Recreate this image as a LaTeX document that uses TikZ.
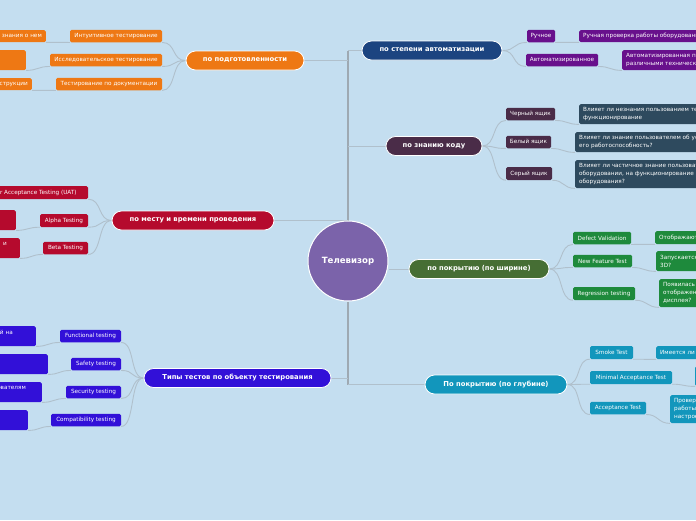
\documentclass[tikz,border=0pt]{standalone}
\usepackage{fontspec}
\setmainfont{DejaVu Sans}
\usetikzlibrary{backgrounds}
\definecolor{bgc}{RGB}{196,222,240}
\definecolor{linec}{RGB}{176,192,204}
\definecolor{trunkc}{RGB}{158,169,178}
\definecolor{tvc}{RGB}{123,99,170}
\definecolor{orc}{RGB}{238,120,20}
\definecolor{blc}{RGB}{28,68,128}
\definecolor{puc}{RGB}{104,16,140}
\definecolor{plc}{RGB}{74,44,72}
\definecolor{slc}{RGB}{46,74,94}
\definecolor{crc}{RGB}{181,10,45}
\definecolor{gmc}{RGB}{70,110,52}
\definecolor{gsc}{RGB}{30,138,60}
\definecolor{vic}{RGB}{50,16,216}
\definecolor{tec}{RGB}{18,150,188}
\tikzset{
  mainbox/.style={rounded corners=9.5pt, draw=white, line width=0.8pt, text=white,
    font=\fontsize{6.8}{8}\selectfont\bfseries, inner sep=0pt, minimum height=19pt},
  subbox/.style={rounded corners=1.5pt, text=white, font=\fontsize{5.7}{7}\selectfont,
    inner sep=0pt, minimum height=12.5pt},
  leafR/.style={rounded corners=1.5pt, text=white, font=\fontsize{5.7}{8}\selectfont,
    inner xsep=4pt, inner ysep=0pt, anchor=north west, text width=200pt, align=left},
  leafL/.style={rounded corners=1.5pt, text=white, font=\fontsize{5.7}{8}\selectfont,
    inner xsep=4pt, inner ysep=0pt, anchor=north east, text width=200pt, align=right},
  conn/.style={draw=linec, line width=0.9pt},
  trunk/.style={draw=trunkc, line width=1.6pt}
}
\begin{document}
\begin{tikzpicture}[x=1pt,y=-1pt]
\useasboundingbox (0,0) rectangle (696,520);
\clip (0,0) rectangle (696,520);

% centre
\node[circle, fill=tvc, draw=white, line width=1pt, minimum size=80pt, inner sep=0pt,
  text=white, font=\fontsize{8.6}{10}\selectfont\bfseries] (tv) at (348,261) {Телевизор};

% main branches
\node[mainbox, fill=orc, minimum width=118pt] (prep) at (245,60.5) {по подготовленности};
\node[mainbox, fill=blc, minimum width=140pt] (auto) at (432,50.5) {по степени автоматизации};
\node[mainbox, fill=plc, minimum width=96pt] (code) at (434,146) {по знанию коду};
\node[mainbox, fill=crc, minimum width=162pt] (place) at (193,220.5) {по месту и времени проведения};
\node[mainbox, fill=gmc, minimum width=140pt] (wide) at (479,269) {по покрытию (по ширине)};
\node[mainbox, fill=vic, minimum width=187pt] (obj) at (237.5,378) {Типы тестов по объекту тестирования};
\node[mainbox, fill=tec, minimum width=142pt] (deep) at (496,384.5) {По покрытию (по глубине)};

% orange subs
\node[subbox, fill=orc, minimum width=92pt] (o1) at (116,36) {Интуитивное тестирование};
\node[subbox, fill=orc, minimum width=112pt] (o2) at (106,60) {Исследовательское тестирование};
\node[subbox, fill=orc, minimum width=106pt] (o3) at (109,84) {Тестирование по документации};
\node[leafL, fill=orc, minimum height=12pt] (o1l) at (46,30) {знания о нем};
\node[leafL, fill=orc, minimum height=20pt] (o2l) at (26,50) {};
\node[leafL, fill=orc, minimum height=12pt] (o3l) at (32,78) {инструкции};

% purple subs
\node[subbox, fill=puc, minimum width=28pt] (p1) at (541,36) {Ручное};
\node[subbox, fill=puc, minimum width=72pt] (p2) at (562,60) {Автоматизированное};
\node[leafR, fill=puc, minimum height=12pt] (p1l) at (579,30) {Ручная проверка работы оборудования};
\node[leafR, fill=puc, minimum height=20pt] (p2l) at (622,50) {Автоматизированная проверка\\различными техническими средствами};

% plum subs
\node[subbox, fill=plc, minimum width=49pt] (k1) at (530.5,114) {Черный ящик};
\node[subbox, fill=plc, minimum width=45pt] (k2) at (528.5,142) {Белый ящик};
\node[subbox, fill=plc, minimum width=46pt, minimum height=13pt] (k3) at (529,173.5) {Серый ящик};
\node[leafR, fill=slc, minimum height=20pt] (k1l) at (579,104) {Влияет ли незнания пользованием телевизора на его\\функционирование};
\node[leafR, fill=slc, minimum height=20pt] (k2l) at (575,132) {Влияет ли знание пользователем об устройстве на\\его работоспособность?};
\node[leafR, fill=slc, minimum height=28pt] (k3l) at (575,160) {Влияет ли частичное знание пользователя об\\оборудовании, на функционирование\\оборудования?};

% crimson subs
\node[subbox, fill=crc, minimum width=110pt, minimum height=13pt] (c1) at (33,192.5) {User Acceptance Testing (UAT)};
\node[subbox, fill=crc, minimum width=48pt, minimum height=13pt] (c2) at (64,220.5) {Alpha Testing};
\node[subbox, fill=crc, minimum width=45pt] (c3) at (65.5,248) {Beta Testing};
\node[leafL, fill=crc, minimum height=20pt] (c2l) at (16,210) {};
\node[leafL, fill=crc, minimum height=20pt] (c3l) at (20,238) {и\rule{9pt}{0pt}\\\mbox{}};

% green subs
\node[subbox, fill=gsc, minimum width=58pt] (g1) at (602,238) {Defect Validation};
\node[subbox, fill=gsc, minimum width=59pt] (g2) at (602.5,261) {New Feature Test};
\node[subbox, fill=gsc, minimum width=62pt, minimum height=13pt] (g3) at (604,293.5) {Regression testing};
\node[leafR, fill=gsc, minimum height=13pt] (g1l) at (655,231) {Отображаются ли};
\node[leafR, fill=gsc, minimum height=20pt] (g2l) at (656,251) {Запускается ли\\3D?};
\node[leafR, fill=gsc, minimum height=28pt] (g3l) at (659,279) {Появилась ли\\отображение на\\дисплея?};

% violet subs
\node[subbox, fill=vic, minimum width=61pt] (v1) at (90.5,336) {Functional testing};
\node[subbox, fill=vic, minimum width=50pt] (v2) at (96,364) {Safety testing};
\node[subbox, fill=vic, minimum width=55pt] (v3) at (93.5,392) {Security testing};
\node[subbox, fill=vic, minimum width=70pt] (v4) at (86,420) {Compatibility testing};
\node[leafL, fill=vic, minimum height=20pt] (v1l) at (36,326) {й на\rule{19pt}{0pt}\\\mbox{}};
\node[leafL, fill=vic, minimum height=20pt] (v2l) at (48,354) {};
\node[leafL, fill=vic, minimum height=20pt] (v3l) at (42,382) {ователям\rule{12pt}{0pt}\\\mbox{}};
\node[leafL, fill=vic, minimum height=20pt] (v4l) at (28,410) {};

% teal subs
\node[subbox, fill=tec, minimum width=43pt, minimum height=13pt] (t1) at (611.5,352.5) {Smoke Test};
\node[subbox, fill=tec, minimum width=82pt, minimum height=13pt] (t2) at (631,377.5) {Minimal Acceptance Test};
\node[subbox, fill=tec, minimum width=56pt] (t3) at (618,408) {Acceptance Test};
\node[leafR, fill=tec, minimum height=13pt] (t1l) at (656,346) {Имеется ли};
\node[leafR, fill=tec, minimum height=20pt] (t2l) at (695,366) {};
\node[leafR, fill=tec, minimum height=28pt] (t3l) at (670,395) {Проверка\\работы\\настроек};

\begin{scope}[on background layer]
\fill[bgc] (0,0) rectangle (696,520);
% trunk
\draw[trunk] (tv.north) -- (tv.north |- auto.west);
\draw[trunk] (tv.south) -- (tv.south |- deep.west);
\draw[conn] (prep.east) -- (prep.east -| tv.north);
\draw[conn] (auto.west) -- (auto.west -| tv.north);
\draw[conn] (code.west) -- (code.west -| tv.north);
\draw[conn] (place.east) -- (place.east -| tv.north);
\draw[conn] (wide.west) -- (wide.west -| tv.east);
\draw[conn] (obj.east) -- (obj.east -| tv.south);
\draw[conn] (deep.west) -- (deep.west -| tv.south);
% left branches
\foreach \p/\c in {prep/o1,prep/o2,prep/o3,place/c1,place/c2,place/c3,obj/v1,obj/v2,obj/v3,obj/v4}
  \draw[conn] (\p.west) .. controls +(-14,0) and +(14,0) .. (\c.south east);
\foreach \c/\l in {o1/o1l,o2/o2l,o3/o3l,c2/c2l,c3/c3l,v1/v1l,v2/v2l,v3/v3l,v4/v4l}
  \draw[conn] (\c.south west) .. controls +(-12,0) and +(12,0) .. (\l.south east);
% right branches
\foreach \p/\c in {auto/p1,auto/p2,code/k1,code/k2,code/k3,wide/g1,wide/g2,wide/g3,deep/t1,deep/t2,deep/t3}
  \draw[conn] (\p.east) .. controls +(14,0) and +(-14,0) .. (\c.south west);
\foreach \c/\l in {p1/p1l,p2/p2l,k1/k1l,k2/k2l,k3/k3l,g1/g1l,g2/g2l,g3/g3l,t1/t1l,t2/t2l,t3/t3l}
  \draw[conn] (\c.south east) .. controls +(12,0) and +(-12,0) .. (\l.south west);
\end{scope}
\end{tikzpicture}
\end{document}
